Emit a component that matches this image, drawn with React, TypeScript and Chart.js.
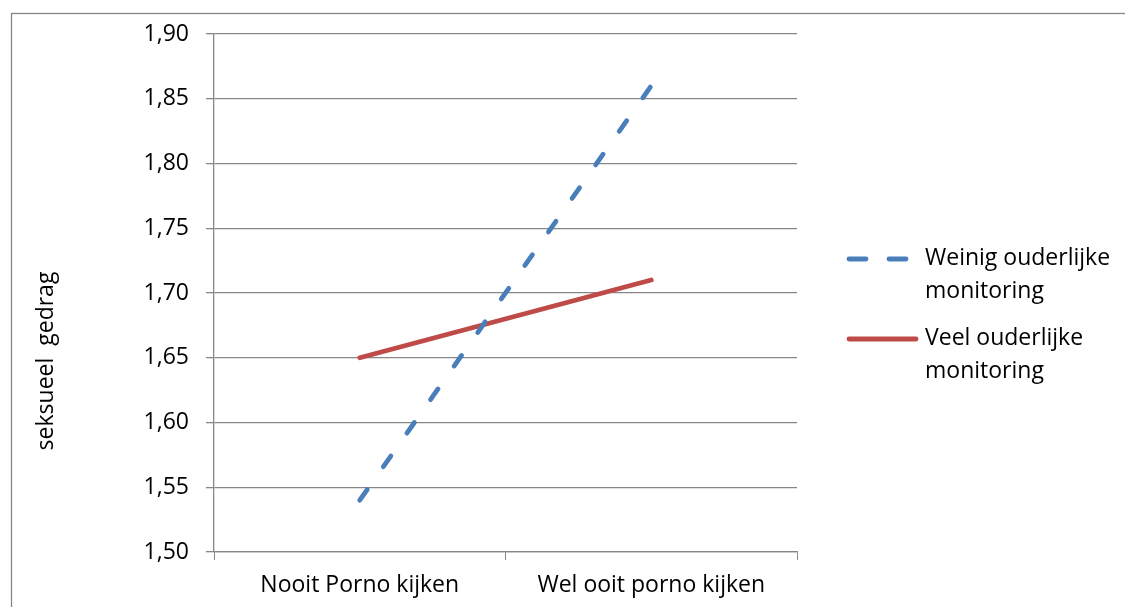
import React, { useEffect, useRef } from "react";
import { Chart, registerables } from "chart.js";

Chart.register(...registerables);

const categories = ["Nooit Porno kijken", "Wel ooit porno kijken"];
const weinigValues = [1.54, 1.86];
const veelValues = [1.65, 1.71];
const weinigLabel = ["Weinig ouderlijke", "monitoring"];
const veelLabel = ["Veel ouderlijke", "monitoring"];
const yTitle = "seksueel  gedrag";
const yMin = 1.5;
const yMax = 1.9;
const yStep = 0.05;

const FONT = "'Open Sans', 'Noto Sans', sans-serif";
const GRID = "#878787";
const FS = 23;

const decorPlugin = {
  id: "decor",
  afterDraw(chart: any) {
    const ctx = chart.ctx as CanvasRenderingContext2D;
    ctx.save();
    // outer border
    ctx.strokeStyle = GRID;
    ctx.lineWidth = 1.3;
    ctx.strokeRect(11.5, 13.5, 3000, 3000);
    // y title
    ctx.fillStyle = "#000";
    ctx.font = `${FS}px ${FONT}`;
    ctx.textAlign = "center";
    ctx.textBaseline = "middle";
    ctx.save();
    ctx.translate(46, 361);
    ctx.rotate(-Math.PI / 2);
    ctx.fillText(yTitle, 0, 0);
    ctx.restore();
    // legend
    const entries = [
      { ds: chart.data.datasets[0], y: 259 },
      { ds: chart.data.datasets[1], y: 339 },
    ];
    entries.forEach(({ ds, y }) => {
      ctx.save();
      ctx.strokeStyle = ds.borderColor;
      ctx.lineWidth = ds.borderWidth;
      ctx.lineCap = "round";
      ctx.setLineDash(ds.borderDash ? [17, 23] : []);
      ctx.beginPath();
      ctx.moveTo(849, y);
      ctx.lineTo(916, y);
      ctx.stroke();
      ctx.restore();
      ctx.fillStyle = "#000";
      ctx.font = `${FS}px ${FONT}`;
      ctx.textAlign = "left";
      ctx.textBaseline = "middle";
      (ds.label as string[]).forEach((t: string, i: number) => {
        ctx.fillText(t, 925, y - 1 + i * 33);
      });
    });
    ctx.restore();
  },
};

export default function App() {
  const ref = useRef<HTMLCanvasElement>(null);
  useEffect(() => {
    document.body.style.margin = "0";
    const chart = new Chart(ref.current!, {
      type: "line",
      data: {
        labels: categories,
        datasets: [
          {
            label: weinigLabel as any,
            data: weinigValues,
            borderColor: "#4A7EBB",
            backgroundColor: "#4A7EBB",
            borderWidth: 4.8,
            borderDash: [13, 28],
            borderCapStyle: "round",
            pointRadius: 0,
            tension: 0,
          },
          {
            label: veelLabel as any,
            data: veelValues,
            borderColor: "#BE4B48",
            backgroundColor: "#BE4B48",
            borderWidth: 4.8,
            borderCapStyle: "round",
            pointRadius: 0,
            tension: 0,
          },
        ],
      },
      options: {
        animation: false,
        responsive: false,
        devicePixelRatio: 1,
        layout: { padding: { left: 0, top: 34, right: 328, bottom: 0 } },
        plugins: {
          legend: { display: false },
          tooltip: { enabled: false },
        },
        scales: {
          x: {
            type: "category",
            offset: true,
            grid: {
              display: true,
              drawOnChartArea: false,
              drawTicks: true,
              tickLength: 8,
              color: GRID,
              offset: true,
            },
            border: { display: true, color: GRID, width: 1.3 },
            ticks: {
              color: "#000",
              font: { family: FONT, size: FS },
              padding: 12,
              maxRotation: 0,
            },
            afterFit: (s: any) => {
              s.height = 55;
            },
          },
          y: {
            min: yMin,
            max: yMax,
            ticks: {
              stepSize: yStep,
              color: "#000",
              font: { family: FONT, size: FS },
              padding: 17,
              callback: (v: any) => Number(v).toFixed(2).replace(".", ","),
            },
            grid: {
              color: GRID,
              lineWidth: 1.3,
              tickLength: 8,
              drawTicks: true,
            },
            border: { display: true, color: GRID, width: 1.3 },
            afterFit: (s: any) => {
              s.width = 214;
            },
          },
        },
      },
      plugins: [decorPlugin],
    });
    return () => chart.destroy();
  }, []);
  return (
    <div style={{ width: 1125, height: 607, background: "#fff" }}>
      <canvas ref={ref} width={1125} height={607} style={{ display: "block" }} />
    </div>
  );
}
